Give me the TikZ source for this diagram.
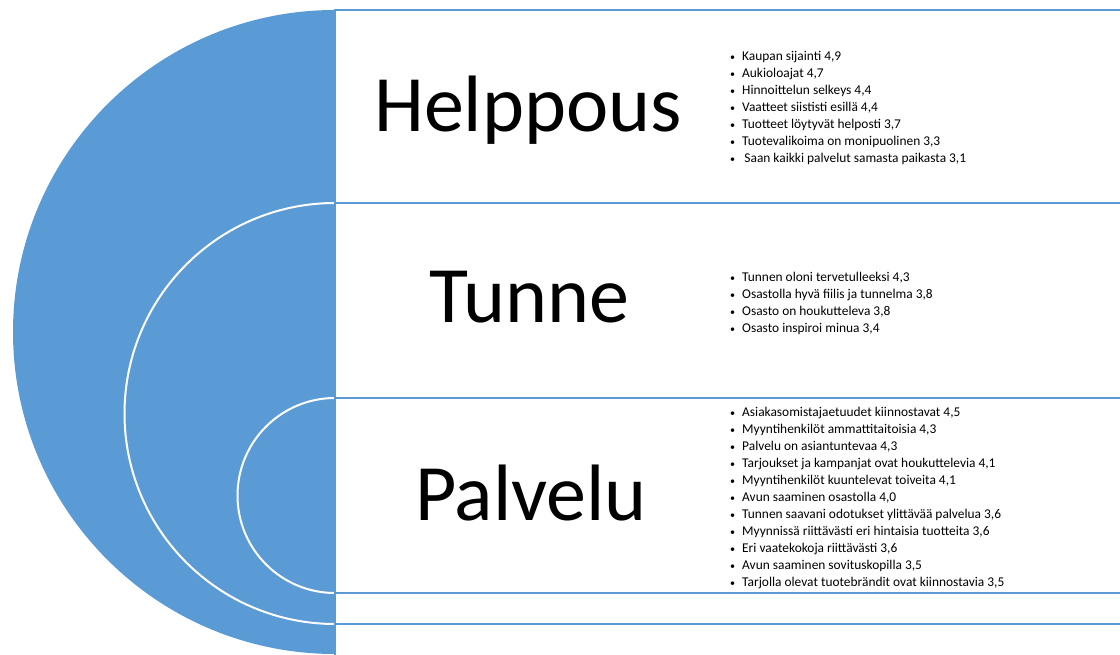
\documentclass[tikz,border=0pt]{standalone}
\usepackage{fontspec}
\setmainfont{Carlito}
\usetikzlibrary{positioning}
\definecolor{targetblue}{RGB}{91,155,213}
\tikzset{
	disc/.style={fill=targetblue, draw=white, line width=2pt},
	panel/.style={fill=white, draw=targetblue, line width=2.6pt},
	bigword/.style={font=\fontsize{80}{96}\selectfont, inner sep=0pt, anchor=base},
	points/.style={font=\fontsize{13.4}{17}\selectfont, align=left, inner sep=0pt, anchor=west}
}
\newcommand{\rowitem}[1]{\makebox[12pt][l]{\scalebox{0.75}{\textbullet}}#1}

\begin{document}
\begin{tikzpicture}[x=1pt, y=-1pt]
	\useasboundingbox (0,0) rectangle (1120,655);
	\clip (0,0) rectangle (1120,655);
	
	% outer target and its panel
	\fill[targetblue] (335,332) circle[radius=322];
	\draw[panel] (335,10) rectangle (1140,658);
	
	% middle target
	\draw[disc] (335,413.5) circle[radius=210.5];
	\draw[panel] (335,203) rectangle (1140,624);
	
	% inner target
	\draw[disc] (335,495.5) circle[radius=97.5];
	\draw[panel] (335,398) rectangle (1140,593);
	
	\node[bigword] (helppous) at (528,132) {Helppous};
	\node[bigword] (tunne) at (529,323) {Tunne};
	\node[bigword] (palvelu) at (531,520) {Palvelu};
	
	\node[points] (helppous list) at (730,108) {
		\rowitem{Kaupan sijainti 4,9}\\
		\rowitem{Aukioloajat 4,7}\\
		\rowitem{Hinnoittelun selkeys 4,4}\\
		\rowitem{Vaatteet siististi esillä 4,4}\\
		\rowitem{Tuotteet löytyvät helposti 3,7}\\
		\rowitem{Tuotevalikoima on monipuolinen 3,3}\\
		\rowitem{\,Saan kaikki palvelut samasta paikasta 3,1}};
	\node[points] (tunne list) at (730,303.5) {
		\rowitem{Tunnen oloni tervetulleeksi 4,3}\\
		\rowitem{Osastolla hyvä fiilis ja tunnelma 3,8}\\
		\rowitem{Osasto on houkutteleva 3,8}\\
		\rowitem{Osasto inspiroi minua 3,4}};
	\node[points] (palvelu list) at (730,497.5) {
		\rowitem{Asiakasomistajaetuudet kiinnostavat 4,5}\\
		\rowitem{Myyntihenkilöt ammattitaitoisia 4,3}\\
		\rowitem{Palvelu on asiantuntevaa 4,3}\\
		\rowitem{Tarjoukset ja kampanjat ovat houkuttelevia 4,1}\\
		\rowitem{Myyntihenkilöt kuuntelevat toiveita 4,1}\\
		\rowitem{Avun saaminen osastolla 4,0}\\
		\rowitem{Tunnen saavani odotukset ylittävää palvelua 3,6}\\
		\rowitem{Myynnissä riittävästi eri hintaisia tuotteita 3,6}\\
		\rowitem{Eri vaatekokoja riittävästi 3,6}\\
		\rowitem{Avun saaminen sovituskopilla 3,5}\\
		\rowitem{Tarjolla olevat tuotebrändit ovat kiinnostavia 3,5}};
\end{tikzpicture}
\end{document}
